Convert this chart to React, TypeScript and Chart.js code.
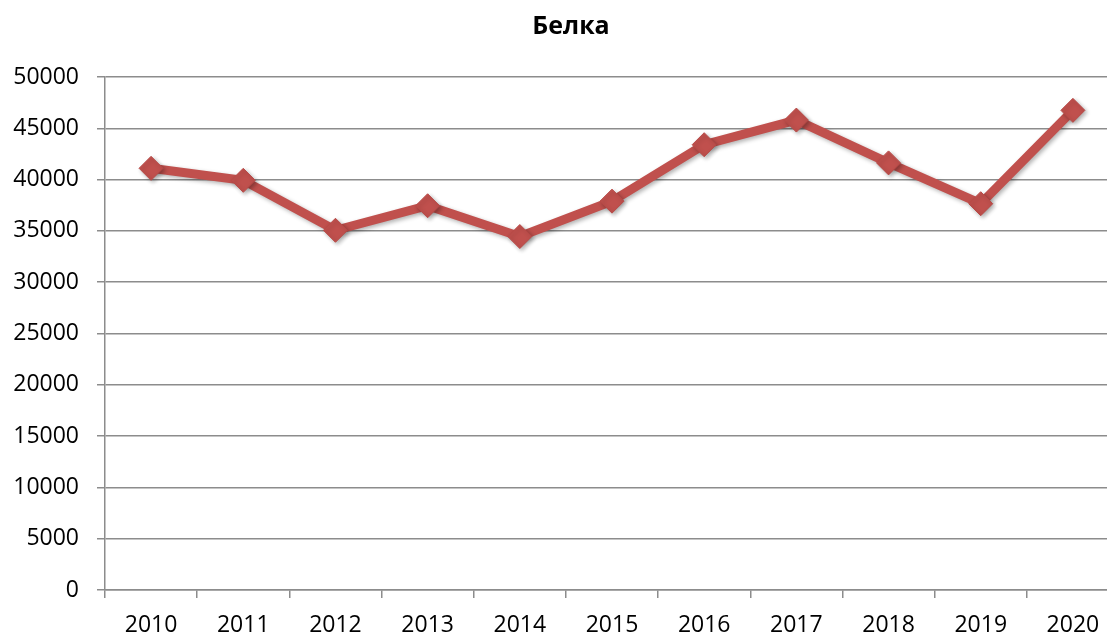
import React, { useEffect, useRef } from "react";
import { Chart, registerables } from "chart.js";

Chart.register(...registerables);

const titleText = "Белка";
const categories = ["2010", "2011", "2012", "2013", "2014", "2015", "2016", "2017", "2018", "2019", "2020"];
const values = [41100, 39930, 35060, 37450, 34450, 37900, 43400, 45800, 41630, 37650, 46750];
const yMin = 0;
const yMax = 50000;
const yStep = 5000;

const FONT = "'Open Sans', 'Noto Sans', sans-serif";

const titlePlugin = {
  id: "customTitle",
  afterDraw(chart: any) {
    const ctx = chart.ctx;
    ctx.save();
    ctx.font = `bold 25px ${FONT}`;
    ctx.fillStyle = "#000";
    ctx.textAlign = "center";
    ctx.textBaseline = "middle";
    ctx.fillText(titleText, 571, 27);
    ctx.restore();
  },
};

const shadowPlugin = {
  id: "shadow",
  beforeDatasetDraw(chart: any) {
    const ctx = chart.ctx;
    ctx.save();
    ctx.shadowColor = "rgba(0,0,0,0.3)";
    ctx.shadowBlur = 4;
    ctx.shadowOffsetX = 2;
    ctx.shadowOffsetY = 2;
  },
  afterDatasetDraw(chart: any) {
    chart.ctx.restore();
  },
};

export default function App() {
  const ref = useRef<HTMLCanvasElement>(null);
  useEffect(() => {
    document.body.style.margin = "0";
    const chart = new Chart(ref.current as HTMLCanvasElement, {
      type: "line",
      data: {
        labels: categories,
        datasets: [
          {
            data: values,
            borderColor: "#C0504D",
            backgroundColor: "#C0504D",
            borderWidth: 9,
            pointStyle: "rectRot",
            pointRadius: 12,
            pointBorderWidth: 1,
            pointBorderColor: "#B84A47",
            pointBackgroundColor: "#C0504D",
            tension: 0,
          },
        ],
      },
      options: {
        responsive: false,
        animation: false,
        layout: { padding: { top: 77, right: 6, left: 0, bottom: 0 } },
        plugins: { legend: { display: false }, title: { display: false }, tooltip: { enabled: false } },
        scales: {
          x: {
            offset: true,
            grid: {
              offset: true,
              drawOnChartArea: false,
              drawTicks: true,
              tickLength: 8,
              color: "#8c8c8c",
              lineWidth: 1.5,
            },
            border: { color: "#8c8c8c", width: 1.5 },
            ticks: { color: "#000", font: { family: FONT, size: 23 }, padding: 14, maxRotation: 0 },
            afterFit(scale: any) {
              scale.height = 46;
            },
          },
          y: {
            min: yMin,
            max: yMax,
            ticks: {
              stepSize: yStep,
              color: "#000",
              font: { family: FONT, size: 23 },
              padding: 18,
              callback: (v: any) => String(v),
            },
            grid: { color: "#8c8c8c", lineWidth: 1.5, tickLength: 8 },
            border: { color: "#8c8c8c", width: 1.5 },
            afterFit(scale: any) {
              scale.width = 105;
            },
          },
        },
      },
      plugins: [titlePlugin, shadowPlugin],
    });
    return () => chart.destroy();
  }, []);
  return (
    <div style={{ position: "relative", width: 1107, height: 636, overflow: "hidden", background: "#fff" }}>
      <canvas ref={ref} width={1132} height={636} style={{ display: "block" }} />
    </div>
  );
}
